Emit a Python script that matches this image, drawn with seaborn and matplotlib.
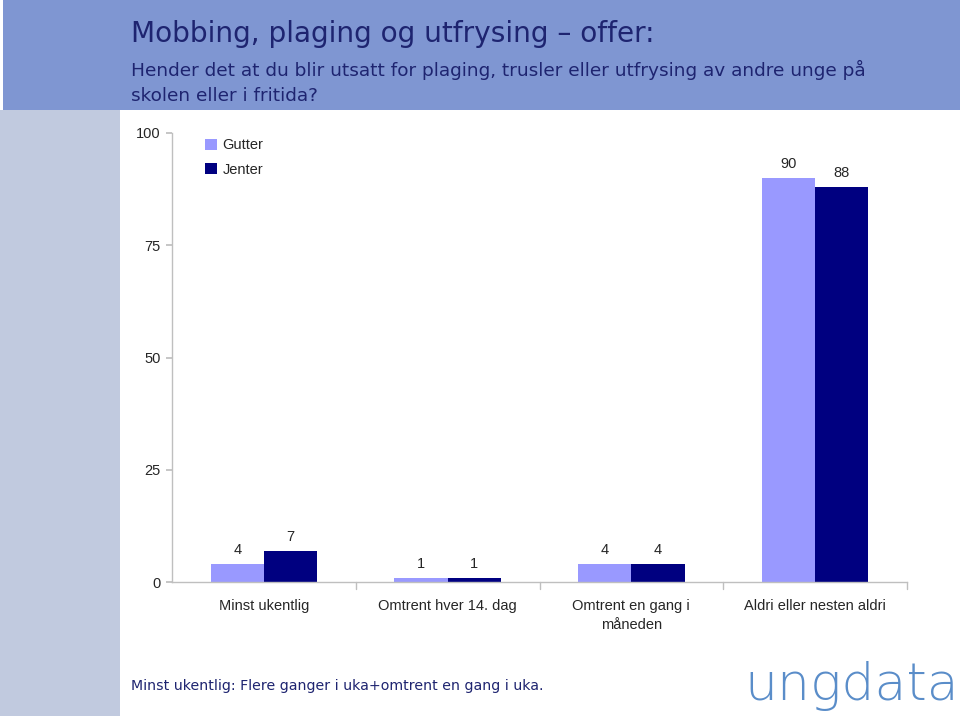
import matplotlib
matplotlib.use("Agg")
import matplotlib.pyplot as plt
import seaborn as sns
import pandas as pd
from matplotlib.patches import Rectangle

categories = ["Minst ukentlig", "Omtrent hver 14. dag", "Omtrent en gang i\nmåneden", "Aldri eller nesten aldri"]
gutter = [4, 1, 4, 90]
jenter = [7, 1, 4, 88]
series = ["Gutter", "Jenter"]
colors = ["#9999FF", "#000080"]
yticks = [0, 25, 50, 75, 100]

df = pd.DataFrame({
    "kategori": categories * 2,
    "verdi": gutter + jenter,
    "kjonn": [series[0]] * 4 + [series[1]] * 4,
})

sns.set_theme(style="white")
plt.rcParams['font.family'] = ['Liberation Sans', 'DejaVu Sans']

fig = plt.figure(figsize=(9.6, 7.16), dpi=100)

# background bands
fig.patches.append(Rectangle((3/960, 1-110/716), 1, 110/716, transform=fig.transFigure,
                             facecolor="#7F96D2", edgecolor="none", zorder=0))
fig.patches.append(Rectangle((0, 0), 120/960, 1-110/716, transform=fig.transFigure,
                             facecolor="#C1CADF", edgecolor="none", zorder=0))

ax = fig.add_axes([172/960, 134/716, (907-172)/960, 449/716])
sns.barplot(data=df, x="kategori", y="verdi", hue="kjonn", palette=colors,
            width=0.58, gap=0, ax=ax, saturation=1, edgecolor="none")
ax.set_xlim(-0.5, 3.5)
ax.set_ylim(0, 100)
ax.set_yticks(yticks)
ax.set_yticklabels([str(t) for t in yticks], fontsize=10.5)
ax.set_xlabel("")
ax.set_ylabel("")
ax.set_xticks([0, 1, 2, 3])
ax.set_xticklabels(categories, fontsize=10.5, linespacing=1.45)
ax.tick_params(axis="x", length=0, pad=12)
ax.tick_params(axis="y", length=4, color="#BFBFBF", direction="out", left=True, pad=4)
for s in ["top", "right"]:
    ax.spines[s].set_visible(False)
for s in ["left", "bottom"]:
    ax.spines[s].set_color("#BFBFBF")
    ax.spines[s].set_linewidth(1)
# category separator ticks
for xpos in [0.5, 1.5, 2.5, 3.5]:
    ax.plot([xpos, xpos], [0, -1.5], color="#BFBFBF", lw=1, clip_on=False)
ax.patch.set_alpha(0)

for cont in ax.containers:
    ax.bar_label(cont, fmt="%d", padding=5, fontsize=10.5)

leg = ax.legend(loc="upper left", bbox_to_anchor=(0.027, 1.017), frameon=False,
                fontsize=10.5, handlelength=0.8, handleheight=0.8, handletextpad=0.4,
                labelspacing=0.7)

hdr = ['DejaVu Sans']
fig.text(131/960, 1-42/716, "Mobbing, plaging og utfrysing – offer:", fontsize=20.2,
         color="#1E2470", family=hdr)
fig.text(131/960, 1-76/716, "Hender det at du blir utsatt for plaging, trusler eller utfrysing av andre unge på",
         fontsize=13.3, color="#1E2470", family=hdr)
fig.text(131/960, 1-101/716, "skolen eller i fritida?",
         fontsize=13.3, color="#1E2470", family=hdr)
fig.text(131/960, 1-690/716, "Minst ukentlig: Flere ganger i uka+omtrent en gang i uka.",
         fontsize=10.2, color="#1E2470", family=hdr)
fig.text(744/960, 1-700/716, "ungdata", fontsize=37.5, color="#5A8DC9",
         family=['DejaVu Sans'], fontweight="light")

fig.savefig("out.png", dpi=100)
